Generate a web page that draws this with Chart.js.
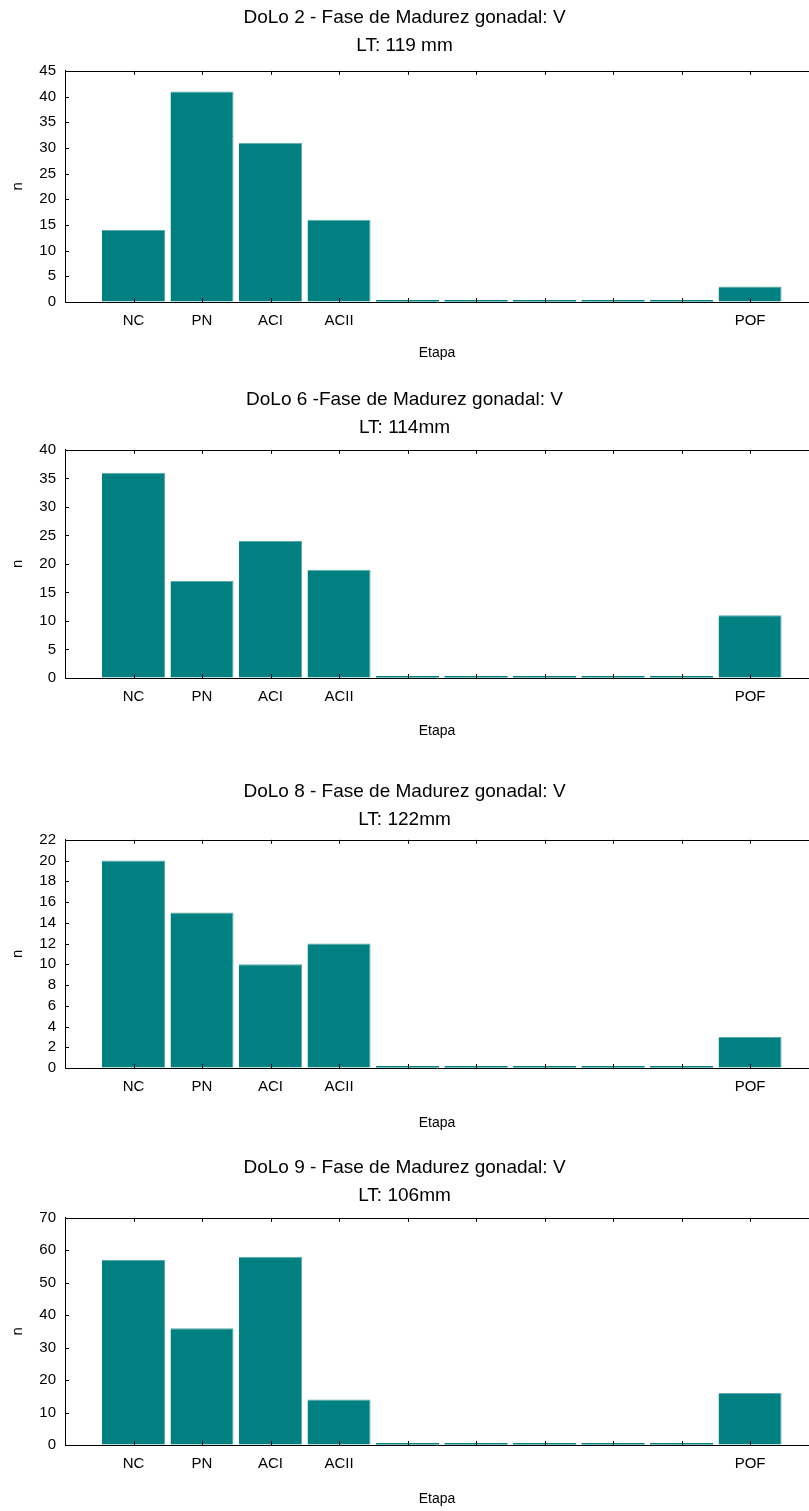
<!DOCTYPE html>
<html>
<head>
<meta charset="utf-8">
<title>DoLo - Fase de Madurez gonadal V</title>
<script src="https://cdn.jsdelivr.net/npm/chart.js@4.4.0/dist/chart.umd.min.js"></script>
<style>
  html, body { margin: 0; padding: 0; background: #fff; overflow: hidden; }
  .panel { position: absolute; left: 0; width: 809px; }
</style>
</head>
<body>
<div class="panel" style="top:0px"><canvas id="dolo2"></canvas></div>
<div class="panel" style="top:382px"><canvas id="dolo6"></canvas></div>
<div class="panel" style="top:774px"><canvas id="dolo8"></canvas></div>
<div class="panel" style="top:1150px"><canvas id="dolo9"></canvas></div>
<script>
// etapas de desarrollo ovocitario (posiciones 1..10 del eje x)
const etapas = ['NC', 'PN', 'ACI', 'ACII', '', '', '', '', '', 'POF'];

const dolo2 = [14, 41, 31, 16, 0, 0, 0, 0, 0, 3];
const dolo6 = [36, 17, 24, 19, 0, 0, 0, 0, 0, 11];
const dolo8 = [20, 15, 10, 12, 0, 0, 0, 0, 0, 3];
const dolo9 = [57, 36, 58, 14, 0, 0, 0, 0, 0, 16];

const titulos = [
  ['DoLo 2 - Fase de Madurez gonadal: V', 'LT: 119 mm'],
  ['DoLo 6 -Fase de Madurez gonadal: V', 'LT: 114mm'],
  ['DoLo 8 - Fase de Madurez gonadal: V', 'LT: 122mm'],
  ['DoLo 9 - Fase de Madurez gonadal: V', 'LT: 106mm']
];
const yMax = [45, 40, 22, 70];
const yPaso = [5, 5, 2, 10];

// layout de cada panel: espacio bajo el titulo, borde inferior del area y alto del canvas
const paneles = [
  { id: 'dolo2', datos: dolo2, gapTitulo: 11, base: 302, alto: 366 },
  { id: 'dolo6', datos: dolo6, gapTitulo: 8, base: 296, alto: 362 },
  { id: 'dolo8', datos: dolo8, gapTitulo: 6, base: 294, alto: 362 },
  { id: 'dolo9', datos: dolo9, gapTitulo: 8, base: 295, alto: 362 }
];

const TEAL = '#008080';
const fuente = "'Liberation Sans', Arial, sans-serif";

// marco superior y marcas de division hacia adentro
const marcoInterior = {
  id: 'marcoInterior',
  afterDraw(chart) {
    const { ctx, chartArea: a, scales: { x, y } } = chart;
    ctx.save();
    ctx.strokeStyle = '#000';
    ctx.lineWidth = 1;
    ctx.beginPath();
    ctx.moveTo(a.left, Math.round(a.top) + 0.5);
    ctx.lineTo(a.right, Math.round(a.top) + 0.5);
    x.ticks.forEach(function (t) {
      if (t.value === 0) return;
      const px = Math.round(x.getPixelForValue(t.value)) + 0.5;
      ctx.moveTo(px, a.bottom);
      ctx.lineTo(px, a.bottom - 4);
      ctx.moveTo(px, a.top);
      ctx.lineTo(px, a.top + 4);
    });
    y.ticks.forEach(function (t) {
      const py = Math.round(y.getPixelForValue(t.value)) + 0.5;
      ctx.moveTo(a.left, py);
      ctx.lineTo(a.left + 4, py);
    });
    ctx.stroke();
    ctx.restore();
  }
};

paneles.forEach(function (p, i) {
  const canvas = document.getElementById(p.id);
  canvas.width = 809;
  canvas.height = p.alto;

  new Chart(canvas, {
    type: 'bar',
    data: {
      datasets: [{
        label: 'n',
        data: p.datos.map(function (v, k) { return { x: k + 1, y: v }; }),
        backgroundColor: TEAL,
        borderColor: '#5fa9a9',
        // las barras en cero quedan como una linea oscura sobre el eje
        borderWidth: function (c) {
          return c.raw && c.raw.y === 0 ? 0 : { top: 1, right: 1, left: 0, bottom: 0 };
        },
        minBarLength: 2,
        barPercentage: 0.92,
        categoryPercentage: 1
      }]
    },
    plugins: [marcoInterior],
    options: {
      responsive: false,
      animation: false,
      layout: { padding: 0 },
      plugins: {
        legend: { display: false },
        tooltip: { enabled: false },
        title: {
          display: true,
          text: titulos[i],
          color: '#000',
          font: { family: fuente, size: 19, weight: 'normal', lineHeight: 1.47 },
          padding: { top: 4, bottom: p.gapTitulo }
        }
      },
      scales: {
        x: {
          type: 'linear',
          offset: false,
          min: 0,
          max: 10.86,
          afterFit: function (s) { s.height = p.alto - p.base; },
          border: { display: true, color: '#000', width: 1 },
          grid: { display: true, drawOnChartArea: false, drawTicks: false },
          ticks: {
            stepSize: 1,
            includeBounds: false,
            autoSkip: false,
            maxRotation: 0,
            padding: 10,
            color: '#000',
            font: { family: fuente, size: 15 },
            callback: function (v) { return etapas[v - 1] || ''; }
          },
          title: {
            display: true,
            text: 'Etapa',
            color: '#000',
            font: { family: fuente, size: 14 },
            padding: { top: 0, bottom: 4 }
          }
        },
        y: {
          min: 0,
          max: yMax[i],
          afterFit: function (s) { s.width = 65; },
          border: { display: true, color: '#000', width: 1 },
          grid: { display: true, drawOnChartArea: false, drawTicks: false },
          ticks: {
            stepSize: yPaso[i],
            autoSkip: false,
            padding: 9,
            color: '#000',
            font: { family: fuente, size: 15 }
          },
          title: {
            display: true,
            text: 'n',
            color: '#000',
            font: { family: fuente, size: 15 },
            padding: { top: 9, bottom: 0 }
          }
        }
      }
    }
  });
});
</script>
</body>
</html>
